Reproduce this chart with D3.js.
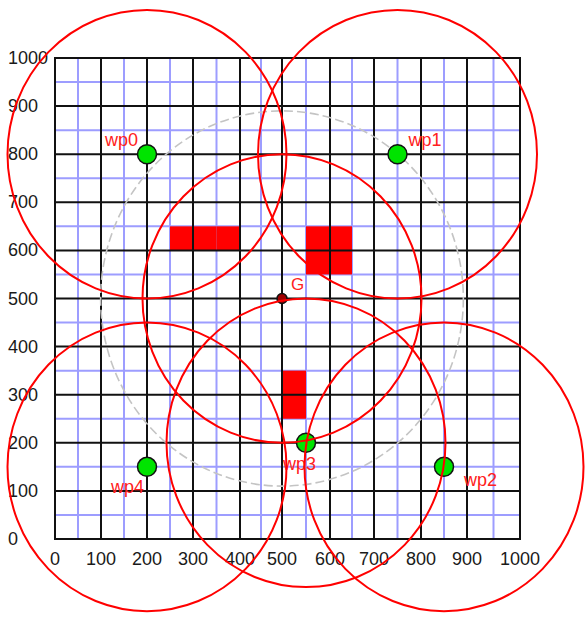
<!DOCTYPE html>
<html>
<head>
<meta charset="utf-8">
<script src="https://cdn.jsdelivr.net/npm/d3@7"></script>
<style>
  body { margin: 0; background: #fff; }
  svg { display: block; font-family: "Liberation Sans", Arial, sans-serif; }
</style>
</head>
<body>
<script>
// waypoints (names + positions in map units)
var wpNames = ["wp0", "wp1", "wp2", "wp3", "wp4"];
var wpX = [200, 750, 850, 550, 200];
var wpY = [800, 800, 150, 200, 150];

// goal point
var goalName = "G";
var goalX = 500;
var goalY = 500;

// obstacle cells (lower left corner of each 50x50 cell)
var obstacleX = [250, 300, 350, 550, 600, 550, 600, 500, 500];
var obstacleY = [600, 600, 600, 600, 600, 550, 550, 300, 250];
var cellSize = 50;

// ranges
var sensorRange = 300;
var orbitRadius = 390;

// axis ticks
var tickValues = [0, 100, 200, 300, 400, 500, 600, 700, 800, 900, 1000];
var minorValues = [50, 150, 250, 350, 450, 550, 650, 750, 850, 950];

var width = 587, height = 622;

var svg = d3.select("body").append("svg")
  .attr("width", width)
  .attr("height", height);

// the original picture is a bit uneven across, so x is piecewise
var x = d3.scaleLinear().domain(tickValues)
  .range([55, 101, 147, 193, 240, 282, 330, 374, 421, 467, 520]);
var y = d3.scaleLinear().domain([0, 1000]).range([539, 58]);

// average px per unit, used for the radii
var kx = (x(1000) - x(0)) / 1000;
var ky = (y(0) - y(1000)) / 1000;

//minor grid (blue)
var minor = svg.append("g");
minor.selectAll("line.vx").data(minorValues).enter().append("line")
  .attr("x1", function(d){ return x(d); }).attr("x2", function(d){ return x(d); })
  .attr("y1", y(0)).attr("y2", y(1000))
  .attr("stroke", "#9d9dff").attr("stroke-width", 2);
minor.selectAll("line.hy").data(minorValues).enter().append("line")
  .attr("y1", function(d){ return y(d); }).attr("y2", function(d){ return y(d); })
  .attr("x1", x(0)).attr("x2", x(1000))
  .attr("stroke", "#9d9dff").attr("stroke-width", 2);

//obstacles
svg.append("g").selectAll("rect").data(obstacleX).enter().append("rect")
  .attr("x", function(d){ return x(d); })
  .attr("y", function(d, i){ return y(obstacleY[i] + cellSize); })
  .attr("width", function(d){ return x(d + cellSize) - x(d); })
  .attr("height", y(0) - y(cellSize))
  .attr("fill", "#ff0000");

//major grid (black)
var major = svg.append("g");
major.selectAll("line.vx").data(tickValues).enter().append("line")
  .attr("x1", function(d){ return x(d); }).attr("x2", function(d){ return x(d); })
  .attr("y1", y(0) + 1).attr("y2", y(1000) - 1)
  .attr("stroke", "#111").attr("stroke-width", 2);
major.selectAll("line.hy").data(tickValues).enter().append("line")
  .attr("y1", function(d){ return y(d); }).attr("y2", function(d){ return y(d); })
  .attr("x1", x(0) - 1).attr("x2", x(1000) + 1)
  .attr("stroke", "#111").attr("stroke-width", 2);

//tick labels
svg.append("g").selectAll("text").data(tickValues).enter().append("text")
  .attr("x", 8)
  .attr("y", function(d){ return y(d) + 6; })
  .attr("font-size", 18)
  .attr("fill", "#1a1a1a")
  .text(function(d){ return d; });
svg.append("g").selectAll("text").data(tickValues).enter().append("text")
  .attr("x", function(d){ return x(d); })
  .attr("y", 565)
  .attr("text-anchor", "middle")
  .attr("font-size", 18)
  .attr("fill", "#1a1a1a")
  .text(function(d){ return d; });

//gray orbit round the goal
svg.append("ellipse")
  .attr("cx", x(goalX)).attr("cy", y(goalY))
  .attr("rx", orbitRadius * kx)
  .attr("ry", orbitRadius * ky)
  .attr("fill", "none")
  .attr("stroke", "#c4c4c4")
  .attr("stroke-width", 1.6)
  .attr("stroke-dasharray", "9,4");

//waypoints
svg.append("g").selectAll("circle").data(wpX).enter().append("circle")
  .attr("cx", function(d){ return x(d); })
  .attr("cy", function(d, i){ return y(wpY[i]); })
  .attr("r", 9.5)
  .attr("fill", "#00e400")
  .attr("stroke", "#111")
  .attr("stroke-width", 1.5);

//goal
svg.append("circle")
  .attr("cx", x(goalX)).attr("cy", y(goalY))
  .attr("r", 5)
  .attr("fill", "#a00000")
  .attr("stroke", "#111")
  .attr("stroke-width", 1.5);

//labels, offset per point
var labelDx = [-9, 11, 20, -23, -3];
var labelDy = [-8, -8, 19, 27, 26];
var labelAnchor = ["end", "start", "start", "start", "end"];
svg.append("g").selectAll("text").data(wpNames).enter().append("text")
  .attr("x", function(d, i){ return x(wpX[i]) + labelDx[i]; })
  .attr("y", function(d, i){ return y(wpY[i]) + labelDy[i]; })
  .attr("text-anchor", function(d, i){ return labelAnchor[i]; })
  .attr("font-size", 18)
  .attr("fill", "#ff2020")
  .text(function(d){ return d; });
svg.append("text")
  .attr("x", x(goalX) + 9).attr("y", y(goalY) - 9)
  .attr("font-size", 17)
  .attr("fill", "#ff2020")
  .text(goalName);

//sensor range circles
var rangeX = wpX.concat([goalX]);
var rangeY = wpY.concat([goalY]);
svg.append("g").selectAll("ellipse").data(rangeX).enter().append("ellipse")
  .attr("cx", function(d){ return x(d); })
  .attr("cy", function(d, i){ return y(rangeY[i]); })
  .attr("rx", sensorRange * kx)
  .attr("ry", sensorRange * ky)
  .attr("fill", "none")
  .attr("stroke", "#ff0000")
  .attr("stroke-width", 2);
</script>
</body>
</html>
